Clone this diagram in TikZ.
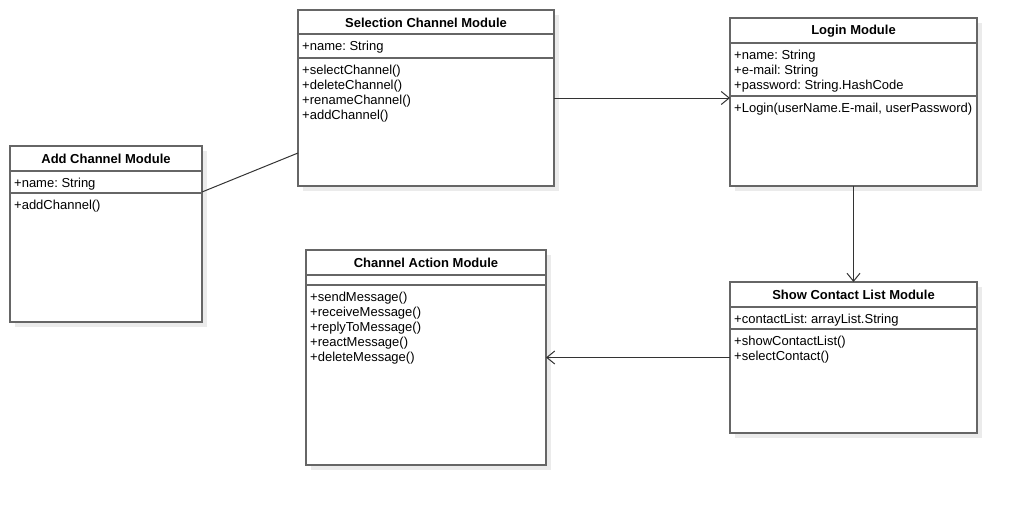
\documentclass[tikz,border=0pt]{standalone}
\usepackage{fontspec}
\setmainfont{Liberation Sans}
\usepackage{xcolor}
\usetikzlibrary{%
  arrows.meta,
  positioning,
  shadows
}
\frenchspacing
\definecolor{framegray}{HTML}{666666}
\definecolor{shadowgray}{HTML}{EBEBEB}
\definecolor{linkgray}{HTML}{333333}
\tikzset{
  box/.style={draw=framegray, line width=1.5pt, fill=white, outer sep=0pt, inner sep=0pt,
              drop shadow={shadow xshift=5pt, shadow yshift=-5pt, fill=shadowgray, opacity=1}},
  frame/.style={draw=framegray, line width=1.5pt},
  title/.style={font=\fontsize{13}{15}\selectfont\bfseries, inner sep=0pt},
  member/.style={font=\fontsize{13}{15}\selectfont, anchor=base west, inner sep=0pt},
  link/.style={draw=linkgray, line width=1pt},
  depends/.style={link, -{Straight Barb[length=8pt,width=13pt]}}
}

\begin{document}
\begin{tikzpicture}[x=1pt,y=-1pt]
  \useasboundingbox (0,0) rectangle (1018,506);
  % #1 name, #2 top left, #3 width, #4 height, #5 title, #6 #7 dividers
  \def\module#1#2#3#4#5#6#7{%
    \node[box, minimum width=#3pt, minimum height=#4pt, anchor=north west] (#1) at (#2) {};
    \node[title] (#1-title) at ([yshift=-13pt]#1.north) {#5};
    \draw[frame] ([yshift=-#6pt]#1.north west) -- ([yshift=-#6pt]#1.north east);
    \draw[frame] ([yshift=-#7pt]#1.north west) -- ([yshift=-#7pt]#1.north east);
  }
  \def\members#1#2#3#4{%
    \foreach \m [count=\i] in {#4}{
      \node[member] (#1-#2\i) at ([xshift=4pt,yshift={-(#3+15*\i+1.5)*1pt}]#1.north west) {\m};
    }
  }

  \module{sel}{298,10}{256}{176}{Selection Channel Module}{24}{48}
  \members{sel}{a}{24}{+name: String}
  \members{sel}{m}{48}{+selectChannel(),+deleteChannel(),+renameChannel(),+addChannel()}

  \module{login}{730,18}{247}{168}{Login Module}{25}{78}
  \members{login}{a}{25}{+name: String,+e-mail: String,+password: String.HashCode}
  \members{login}{m}{78}{{+Login(userName.E-mail, userPassword)}}

  \module{add}{10,146}{192}{176}{Add Channel Module}{25}{47}
  \members{add}{a}{25}{+name: String}
  \members{add}{m}{47}{+addChannel()}

  \module{action}{306,250}{240}{215}{Channel Action Module}{25}{35}
  \members{action}{m}{35}{+sendMessage(),+receiveMessage(),+replyToMessage(),+reactMessage(),+deleteMessage()}

  \module{show}{730,282}{247}{151}{Show Contact List Module}{25}{47}
  \members{show}{a}{25}{+contactList: arrayList.String}
  \members{show}{m}{47}{+showContactList(),+selectContact()}

  % connectors
  \draw[link] ([yshift=42pt]add.east) -- ([yshift=-55pt]sel.west);
  \draw[depends] (sel.east) -- (login.west |- sel.east);
  \draw[depends] (login.south) -- (show.north);
  \draw[depends] (show.west) -- (action.east |- show.west);
\end{tikzpicture}
\end{document}
